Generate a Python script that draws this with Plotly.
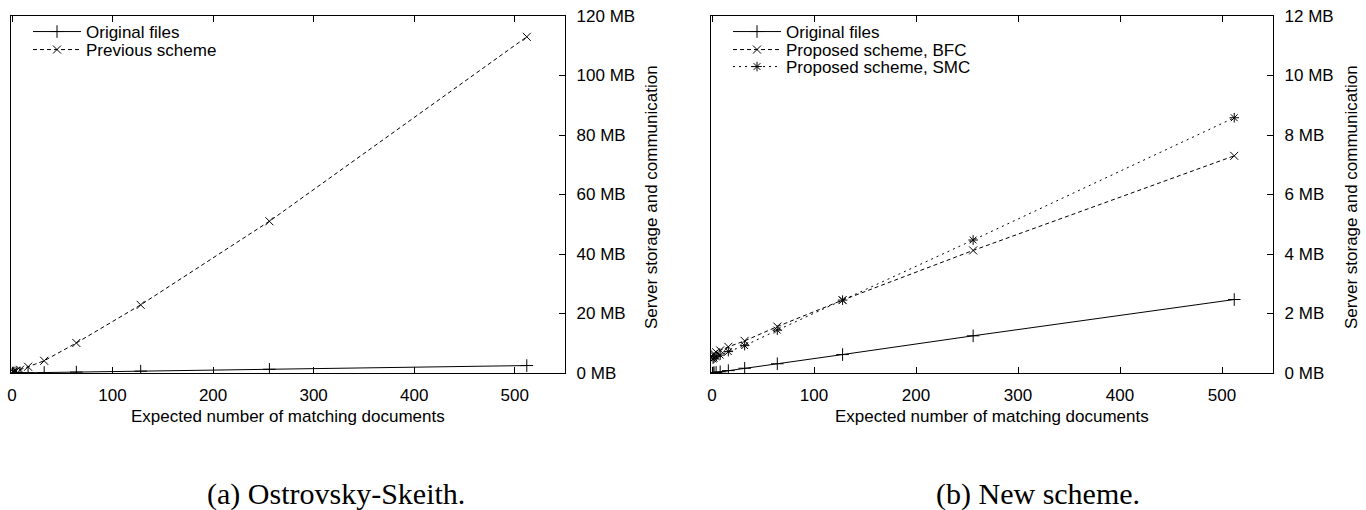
import plotly.graph_objects as go

# ---- data ----
n_docs = [1, 2, 4, 8, 16, 32, 64, 128, 256, 512]

# (a) Ostrovsky-Skeith, MB
a_original = [0.005, 0.01, 0.02, 0.04, 0.08, 0.16, 0.31, 0.62, 1.25, 2.5]
a_previous = [0.3, 0.45, 0.65, 1.1, 2.1, 4.1, 10.1, 22.9, 51.0, 113.0]

# (b) New scheme, MB
b_original = [0.005, 0.01, 0.02, 0.04, 0.08, 0.16, 0.31, 0.62, 1.25, 2.47]
b_bfc = [0.62, 0.65, 0.70, 0.76, 0.88, 1.08, 1.56, 2.45, 4.12, 7.3]
b_smc = [0.47, 0.50, 0.55, 0.60, 0.72, 0.92, 1.44, 2.45, 4.47, 8.58]

y_ticks_a = [0, 20, 40, 60, 80, 100, 120]
y_ticks_b = [0, 2, 4, 6, 8, 10, 12]
x_ticks = [0, 100, 200, 300, 400, 500]

x_title = "Expected number of matching documents"
y_title = "Server storage and communication"
caption_a = "(a) Ostrovsky-Skeith."
caption_b = "(b) New scheme."

W, H = 1366, 510
SANS = "Liberation Sans, Arial, sans-serif"
SERIF = "Liberation Serif, Times New Roman, serif"
FS = 17

fig = go.Figure()

def add(x, y, name, xa, ya, dash, symbol, legend, size=9):
    fig.add_trace(go.Scatter(
        x=x, y=y, name=name, xaxis=xa, yaxis=ya, mode="lines+markers",
        line=dict(color="black", width=1, dash=dash),
        marker=dict(symbol=symbol, size=size, color="black",
                    line=dict(color="black", width=1)),
        legend=legend,
    ))

add(n_docs, a_original, "Original files", "x", "y", "solid", "cross-thin-open", "legend", 9)
add(n_docs, a_previous, "Previous scheme", "x", "y", "4px,3px", "x-thin-open", "legend2", 8)
add(n_docs, b_original, "Original files", "x2", "y2", "solid", "cross-thin-open", "legend3", 9)
add(n_docs, b_bfc, "Proposed scheme, BFC", "x2", "y2", "4px,3px", "x-thin-open", "legend4", 8)
add(n_docs, b_smc, "Proposed scheme, SMC", "x2", "y2", "2px,4px", "asterisk-open", "legend5", 8)

dom_a = [11 / W, 565 / W]
dom_b = [711 / W, 1273 / W]
dom_y = [1 - 373 / H, 1 - 16 / H]

xcommon = dict(range=[-1, 550], tickvals=x_ticks, ticks="inside", ticklen=6,
               tickcolor="black", showline=True, linecolor="black", linewidth=1.3,
               mirror="ticks", showgrid=False, zeroline=False, automargin=False,
               ticklabelstandoff=6,
               tickfont=dict(family=SANS, size=FS, color="black"))
ycommon = dict(side="right", ticks="inside", ticklen=6, tickcolor="black",
               showline=True, linecolor="black", linewidth=1.3, mirror=True,
               showgrid=False, zeroline=False, automargin=False,
               ticklabelstandoff=7,
               tickfont=dict(family=SANS, size=FS, color="black"))

def leg(xpx, ypx):
    return dict(x=xpx / W, y=1 - ypx / H, xanchor="left", yanchor="middle",
                bgcolor="rgba(0,0,0,0)", borderwidth=0, itemwidth=48,
                font=dict(family=SANS, size=FS, color="black"))

fig.update_layout(
    width=W, height=H,
    margin=dict(l=0, r=0, t=0, b=0, autoexpand=False),
    paper_bgcolor="white", plot_bgcolor="white",
    xaxis=dict(domain=dom_a, anchor="y", **xcommon),
    yaxis=dict(domain=dom_y, anchor="x", range=[0, 120], tickvals=y_ticks_a,
               ticktext=[f"{v} MB" for v in y_ticks_a], **ycommon),
    xaxis2=dict(domain=dom_b, anchor="y2", **xcommon),
    yaxis2=dict(domain=dom_y, anchor="x2", range=[0, 12], tickvals=y_ticks_b,
                ticktext=[f"{v} MB" for v in y_ticks_b], **ycommon),
    legend=leg(28, 32),
    legend2=leg(28, 50),
    legend3=leg(728, 32),
    legend4=leg(728, 50),
    legend5=leg(728, 67),
    showlegend=True,
)

anns = [
    dict(text=x_title, x=288 / W, y=1 - 416 / H),
    dict(text=x_title, x=992 / W, y=1 - 416 / H),
    dict(text=y_title, x=652 / W, y=1 - 197 / H, textangle=-90),
    dict(text=y_title, x=1352 / W, y=1 - 197 / H, textangle=-90),
]
for a in anns:
    fig.add_annotation(xref="paper", yref="paper", showarrow=False,
                       xanchor="center", yanchor="middle",
                       font=dict(family=SANS, size=FS, color="black"), **a)

fig.add_annotation(text=caption_a, xref="paper", yref="paper", x=336 / W, y=1 - 494 / H,
                   showarrow=False, xanchor="center", yanchor="middle",
                   font=dict(family=SERIF, size=30, color="black"))
fig.add_annotation(text=caption_b, xref="paper", yref="paper", x=1038 / W, y=1 - 494 / H,
                   showarrow=False, xanchor="center", yanchor="middle",
                   font=dict(family=SERIF, size=30, color="black"))

fig.write_html("out.html", config={"displayModeBar": False},
               post_script="document.body.style.margin='0';document.body.style.padding='0';")
